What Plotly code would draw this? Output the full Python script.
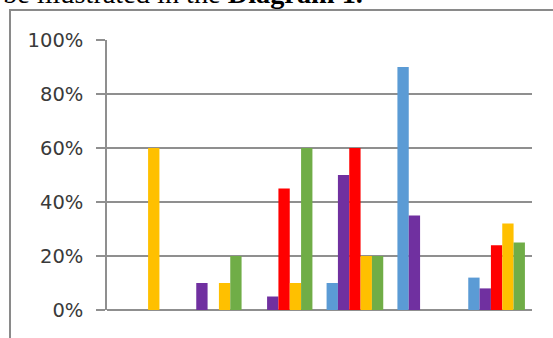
import plotly.graph_objects as go

categories = ["1", "2", "3", "4", "5", "6"]
series_names = ["Series 1", "Series 2", "Series 3", "Series 4", "Series 5"]
blue = [None, None, None, 0.10, 0.90, 0.12]
purple = [None, 0.10, 0.05, 0.50, 0.35, 0.08]
red = [None, None, 0.45, 0.60, None, 0.24]
yellow = [0.60, 0.10, 0.10, 0.20, None, 0.32]
green = [None, 0.20, 0.60, 0.20, None, 0.25]
y_ticks = [0, 0.2, 0.4, 0.6, 0.8, 1.0]
y_tick_labels = ["0%", "20%", "40%", "60%", "80%", "100%"]

colors = ["#5B9BD5", "#7030A0", "#FF0000", "#FFC000", "#70AD47"]
all_series = [blue, purple, red, yellow, green]

fig = go.Figure()
for name, vals, col in zip(series_names, all_series, colors):
    fig.add_trace(go.Bar(x=categories, y=vals, name=name, marker=dict(color=col, line=dict(width=0))))

W, H = 553, 338
L, R, T, B = 107, 21, 40, 28
pw, ph = W - L - R, H - T - B

def px(x):
    return (x - L) / pw

def py(y):
    return (H - B - y) / ph

grid = "#8f8f8f"
fig.update_layout(
    width=W, height=H,
    margin=dict(l=L, r=R, t=T, b=B, pad=0),
    barmode="group", bargap=0.2, bargroupgap=0,
    showlegend=False,
    plot_bgcolor="white", paper_bgcolor="white",
    xaxis=dict(showticklabels=False, ticks="", showgrid=False, showline=False,
               zeroline=False, range=[-0.5, 5.5]),
    yaxis=dict(range=[0, 1.0], tickvals=y_ticks, ticktext=y_tick_labels,
               showgrid=True, gridcolor=grid, gridwidth=1.5,
               showline=True, linecolor=grid, linewidth=1.5,
               ticks="outside", ticklen=9, tickcolor=grid, tickwidth=1.5,
               zeroline=True, zerolinecolor=grid, zerolinewidth=1.5,
               tickfont=dict(family="DejaVu Sans", size=19.5, color="#3a3a3a"),
               ticklabelstandoff=9),
    shapes=[dict(type="rect", xref="paper", yref="paper",
                 x0=px(10), x1=px(556), y0=py(10), y1=py(342),
                 line=dict(color="#8a8a8a", width=2), layer="below")],
    annotations=[dict(xref="paper", yref="paper", x=px(1), y=py(10.5),
                      xanchor="left", yanchor="bottom", showarrow=False,
                      text="be illustrated in the <b>Diagram 1.</b>",
                      font=dict(family="Liberation Serif", size=28.3, color="#000000"))],
)
fig.write_html("out.html")
